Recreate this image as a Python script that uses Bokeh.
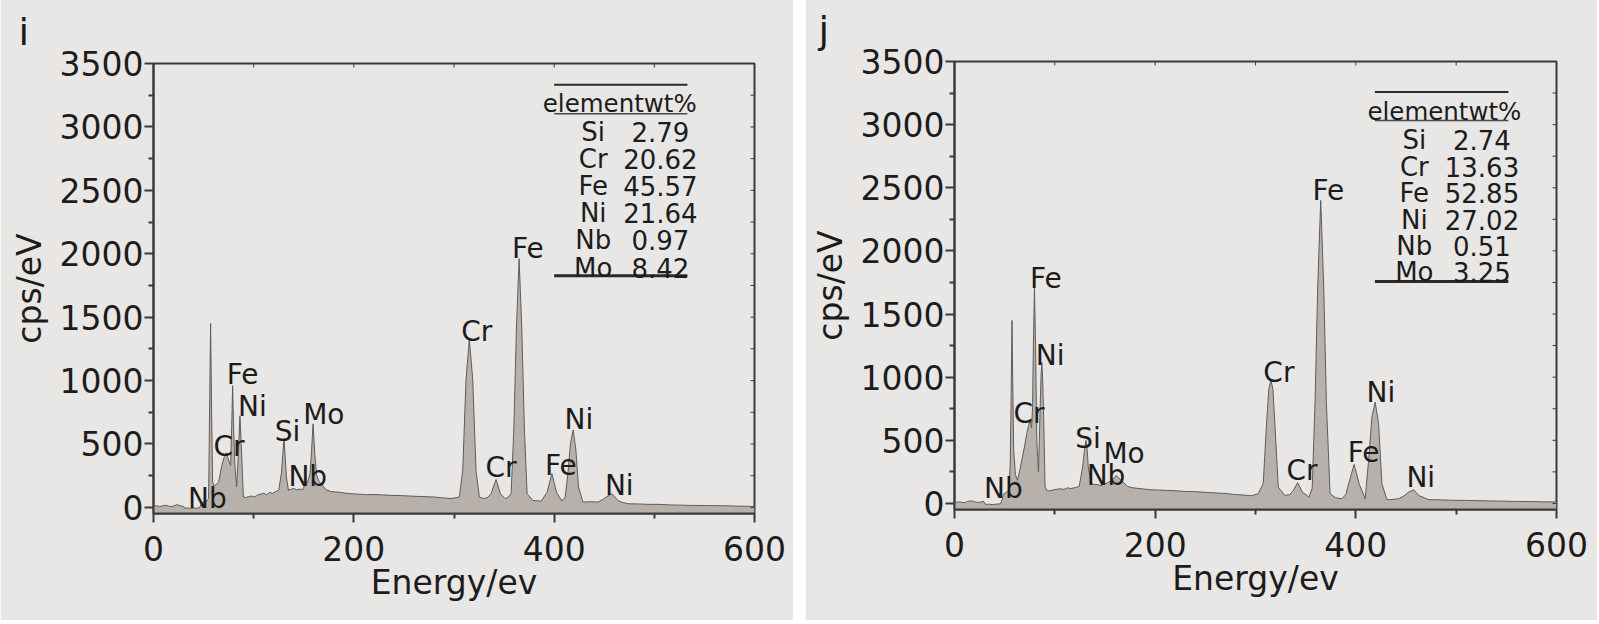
from bokeh.plotting import figure
from bokeh.models import FixedTicker, Range1d, ColumnDataSource
from bokeh.layouts import row, column
from bokeh.core.properties import value
from bokeh.embed import file_html
from bokeh.resources import INLINE

# ---------------- data ----------------
x_ticks = [0, 200, 400, 600]
x_minor = [100, 300, 500]
x_top_ticks = [0, 100, 200, 300, 400, 500, 600]
y_ticks = [0, 500, 1000, 1500, 2000, 2500, 3000, 3500]
y_minor = [250, 750, 1250, 1750, 2250, 2750, 3250]

# panel i spectrum
i_energy = [0, 3, 6, 9, 12, 15, 18, 21, 24, 27, 30, 31, 34, 37, 40, 43, 46, 48, 50, 52, 54,
            55, 56, 57, 58, 59, 60.5, 63, 65, 66.5, 68.3, 70.7, 72.7, 75, 77, 78, 79, 80, 81.3, 83, 84.7, 86.3, 88, 89.7, 92,
            95, 98, 101, 104, 107, 110, 113, 116, 119, 122, 125, 127.7, 130.3, 132.7, 134.7, 137, 140, 143, 146, 149,
            151, 153.7, 156.3, 157.8, 159.3, 161, 163, 165.3, 168.7, 172, 177, 182, 187, 192, 197, 205, 213, 221, 230,
            238, 247, 255, 263, 271, 280, 288, 297,
            301, 305.3, 308.7, 312, 315.3, 318.7, 322, 325.3, 330.3, 334, 337, 342, 346.3, 351, 354, 357, 359.7, 362.3,
            365, 367.7, 370.3, 373, 378.7, 383, 387, 393, 397.7, 402.3, 407.7, 411, 413.7, 416.3, 419, 421.7, 424.3,
            428.7, 436, 443.7, 448, 452, 457.7, 463.7, 468, 473.7, 485, 495, 503.7, 515, 525, 537, 550, 560, 570, 585, 600]
i_counts = [8, 14, 6, 12, 18, 10, 5, 15, 22, 12, 8, -6, -4, -8, -5, -6, -3, 35, 42, 50, 55,
            70, 760, 1450, 760, 200, 170, 185, 200, 260, 333, 400, 430, 373, 330, 620, 960, 620, 330, 161, 420, 722, 420, 82, 78,
            85, 90, 82, 98, 105, 112, 100, 118, 110, 125, 135, 270, 545, 240, 135, 142, 150, 138, 145, 140,
            175, 195, 265, 450, 659, 420, 250, 205, 175, 140, 125, 122, 118, 112, 108, 104, 100, 102, 98,
            95, 93, 90, 87, 85, 82, 76, 70,
            75, 82, 288, 1008, 1326, 1008, 288, 82, 69, 80, 108, 220, 108, 69, 80, 108, 611, 1405,
            1961, 1405, 611, 108, 55, 52, 50, 120, 267, 120, 50, 80, 267, 505, 611, 452, 161,
            42, 45, 42, 60, 82, 108, 55, 40, 29, 27, 24, 24, 20, 18, 16, 15, 14, 13, 10, 8]

# panel j spectrum
j_energy = [0, 3, 6, 10, 13, 16, 20, 23, 26, 29, 31, 34, 38, 42, 46, 49.3, 52, 54.3,
            55.5, 56.5, 57.3, 58.2, 59, 60.7, 62.7, 65, 67.7, 70, 72, 74, 75.3, 76.8, 77.8, 78.6, 79.7, 80.8, 82,
            83.7, 85.3, 86.2, 87, 87.8, 88.7, 90.3, 92.7,
            96, 99.3, 103, 106, 109, 112.7, 116, 119.3, 122, 124.3, 127.7, 129.5, 131, 132.3, 133.3, 136, 139, 142.7,
            146, 149.3, 152, 156, 158.5, 161, 163.5, 166, 169, 172.7, 177, 182.7, 189, 196, 204, 212.7, 221, 229.3,
            238, 246, 254, 262.7, 271, 279.3, 288, 296,
            302.7, 307.7, 311, 313.2, 315.3, 317.4, 319.3, 322.7, 329.3, 334, 337.7, 342, 346.7, 353.3, 356.5, 359.3,
            362, 365, 368, 370.7, 374.3, 380, 386, 390, 393.3, 398.3, 403.3, 409.3, 413.3, 416, 419.3, 422.7, 426,
            431, 437, 442.7, 448, 452.7, 457.7, 462.7, 472.7, 485, 497, 509.3, 522, 535, 547, 559.3, 572, 586, 600]
j_counts = [4, 12, 11, 6, 15, 21, 14, 8, 11, 16, -8, -6, -9, -5, -3, 76, 90, 103,
            300, 869, 1450, 869, 420, 230, 182, 260, 367, 460, 552, 620, 663, 600, 760, 1250, 1708, 1250, 500,
            248, 736, 1000, 1119, 1000, 736, 129, 98,
            102, 108, 114, 116, 110, 124, 118, 124, 128, 135, 288, 420, 499, 420, 288, 161, 150, 150,
            140, 156, 160, 182, 200, 222, 205, 182, 160, 135, 125, 119, 114, 108, 106, 103, 100, 95,
            94, 90, 86, 82, 78, 71, 66, 61,
            77, 156, 631, 900, 980, 900, 631, 129, 63, 70, 103, 164, 90, 50, 120, 790,
            1714, 2400, 1714, 790, 77, 45, 37, 70, 169, 309, 156, 37, 393, 684, 802, 631, 156,
            29, 32, 37, 60, 90, 108, 63, 30, 28, 25, 24, 22, 20, 18, 16, 15, 13, 12]

# peak labels
peak_names = ["Nb", "Cr", "Fe", "Ni", "Si", "Nb", "Mo", "Cr", "Cr", "Fe", "Fe", "Ni", "Ni"]
i_peak_x = [53.7, 75.3, 89, 98.7, 133.7, 154, 170, 322.7, 347, 373.7, 406.7, 424.7, 465]
i_peak_y = [29, 439, 1008, 757, 558, 201, 690, 1347, 272, 2001, 294, 651, 130]
j_peak_x = [48.7, 74.3, 91, 95.3, 133, 151, 169, 323.3, 346.3, 372.7, 407.7, 425, 464.7]
j_peak_y = [77, 671, 1740, 1132, 478, 182, 354, 1000, 222, 2439, 367, 842, 164]

# composition tables
elements = ["Si", "Cr", "Fe", "Ni", "Nb", "Mo"]
i_wt = ["2.79", "20.62", "45.57", "21.64", "0.97", "8.42"]
j_wt = ["2.74", "13.63", "52.85", "27.02", "0.51", "3.25"]

# ---------------- styling ----------------
FONT = "DejaVu Sans"
BG = "#e8e7e5"
AX = "#3a3a3a"
TXT = "#1c1c1c"
FILL = "#b8b1ab"
LINE = "#5c5c5c"
Y0 = -48
Y1 = 3500
X0, X1 = 0, 600
SHIFT = 8  # whole layout is lifted by this many px


def make_panel(tag, energy, counts, px, py, wt, geom):
    p = figure(width=geom["w"], height=620 + SHIFT, output_backend="svg", toolbar_location=None,
               x_range=Range1d(X0, X1), y_range=Range1d(Y0, Y1),
               min_border_left=geom["l"], min_border_right=geom["r"],
               min_border_top=geom["t"] + SHIFT, min_border_bottom=geom["b"],
               background_fill_color=BG, border_fill_color=BG,
               outline_line_color=AX, outline_line_width=2)
    p.grid.visible = False

    # panel tag as a left-shifted title
    p.title.text = tag
    p.title.align = "left"
    p.title.vertical_align = "bottom"
    p.title.offset = geom["tag_off"]
    p.title.text_font = FONT
    p.title.text_font_size = "38px"
    p.title.text_font_style = "normal"
    p.title.text_color = TXT
    p.title.standoff = geom["tag_standoff"]

    src = ColumnDataSource(dict(x=energy, y=counts))
    p.varea(x="x", y1=Y0, y2="y", source=src, fill_color=FILL)
    p.line(x="x", y="y", source=src, line_color=LINE, line_width=1)

    # axes
    xa = p.xaxis[0]
    xa.ticker = FixedTicker(ticks=x_ticks, minor_ticks=x_minor)
    xa.axis_label = "Energy/ev"
    ya = p.yaxis[0]
    ya.ticker = FixedTicker(ticks=y_ticks, minor_ticks=y_minor)
    ya.axis_label = "cps/eV"
    for a in (xa, ya):
        a.axis_line_color = AX
        a.axis_line_width = 2
        a.major_tick_line_color = AX
        a.major_tick_line_width = 2
        a.minor_tick_line_color = AX
        a.minor_tick_line_width = 2
        a.major_tick_in = 0
        a.major_tick_out = 9
        a.minor_tick_in = 0
        a.minor_tick_out = 5
        a.major_label_text_font = FONT
        a.major_label_text_font_size = "33px"
        a.major_label_text_color = TXT
        a.axis_label_text_font = FONT
        a.axis_label_text_font_size = "33px"
        a.axis_label_text_font_style = "normal"
        a.axis_label_text_color = TXT
    xa.major_label_standoff = 13
    xa.axis_label_standoff = -1
    ya.major_label_standoff = 1
    ya.axis_label_standoff = 8

    # small inward ticks on the top and right frame edges
    ty = (Y1 - Y0) * 4.0 / 447
    tx = (X1 - X0) * 4.0 / 601
    p.segment(x0=x_top_ticks, y0=[Y1] * len(x_top_ticks), x1=x_top_ticks,
              y1=[Y1 - ty] * len(x_top_ticks), line_color=AX, line_width=1)
    ry = y_ticks + y_minor
    p.segment(x0=[X1] * len(ry), y0=ry, x1=[X1 - tx] * len(ry), y1=ry, line_color=AX, line_width=1)

    # peak labels
    p.text(x=px, y=py, text=peak_names, text_font=value(FONT), text_font_size=value("28px"),
           text_align="center", text_baseline="alphabetic", text_color=TXT, y_offset=-5)

    # composition table
    tb = geom["table"]
    p.segment(x0=[tb["x0"]], y0=[tb["top"]], x1=[tb["x1"]], y1=[tb["top"]], line_color="#2a2a2a", line_width=2)
    p.segment(x0=[tb["x0"]], y0=[tb["under"]], x1=[tb["x1"]], y1=[tb["under"]], line_color="#4a4a4a", line_width=1.5)
    p.segment(x0=[tb["x0"]], y0=[tb["bottom"]], x1=[tb["x1"]], y1=[tb["bottom"]], line_color="#2a2a2a", line_width=3)
    p.text(x=[tb["hx"]], y=[tb["head"]], text=["elementwt%"], text_font=value(FONT),
           text_font_size=value("24.5px"), text_align="center", text_baseline="alphabetic",
           text_color=TXT, y_offset=-4)
    rows_y = [tb["row0"] - k * tb["step"] for k in range(len(elements))]
    p.text(x=[tb["ex"]] * len(elements), y=rows_y, text=elements, text_font=value(FONT),
           text_font_size=value("26px"), text_align="center", text_baseline="alphabetic",
           text_color=TXT, y_offset=-4)
    p.text(x=[tb["vx"]] * len(wt), y=rows_y, text=wt, text_font=value(FONT),
           text_font_size=value("26px"), text_align="center", text_baseline="alphabetic",
           text_color=TXT, y_offset=-4)
    return p


geom_i = dict(w=793, l=153, r=39, t=63, b=107, tag_off=-135, tag_standoff=19,
              table=dict(x0=400, x1=533, top=3333, head=3152, hx=465.5, under=3104, row0=2930,
                         step=214, bottom=1826, ex=439, vx=506))
geom_j = dict(w=792, l=149, r=41, t=61, b=111, tag_off=-136, tag_standoff=19,
              table=dict(x0=419, x1=552, top=3258, head=3073, hx=488.3, under=3033, row0=2843,
                         step=209, bottom=1758, ex=458.3, vx=525.7))

p_i = make_panel("i", i_energy, i_counts, i_peak_x, i_peak_y, i_wt, geom_i)
p_j = make_panel("j", j_energy, j_counts, j_peak_x, j_peak_y, j_wt, geom_j)

layout = row(column(p_i), column(p_j), spacing=12, margin=(-SHIFT, 0, 0, 0))
open("out.html", "w").write(file_html(layout, INLINE))
